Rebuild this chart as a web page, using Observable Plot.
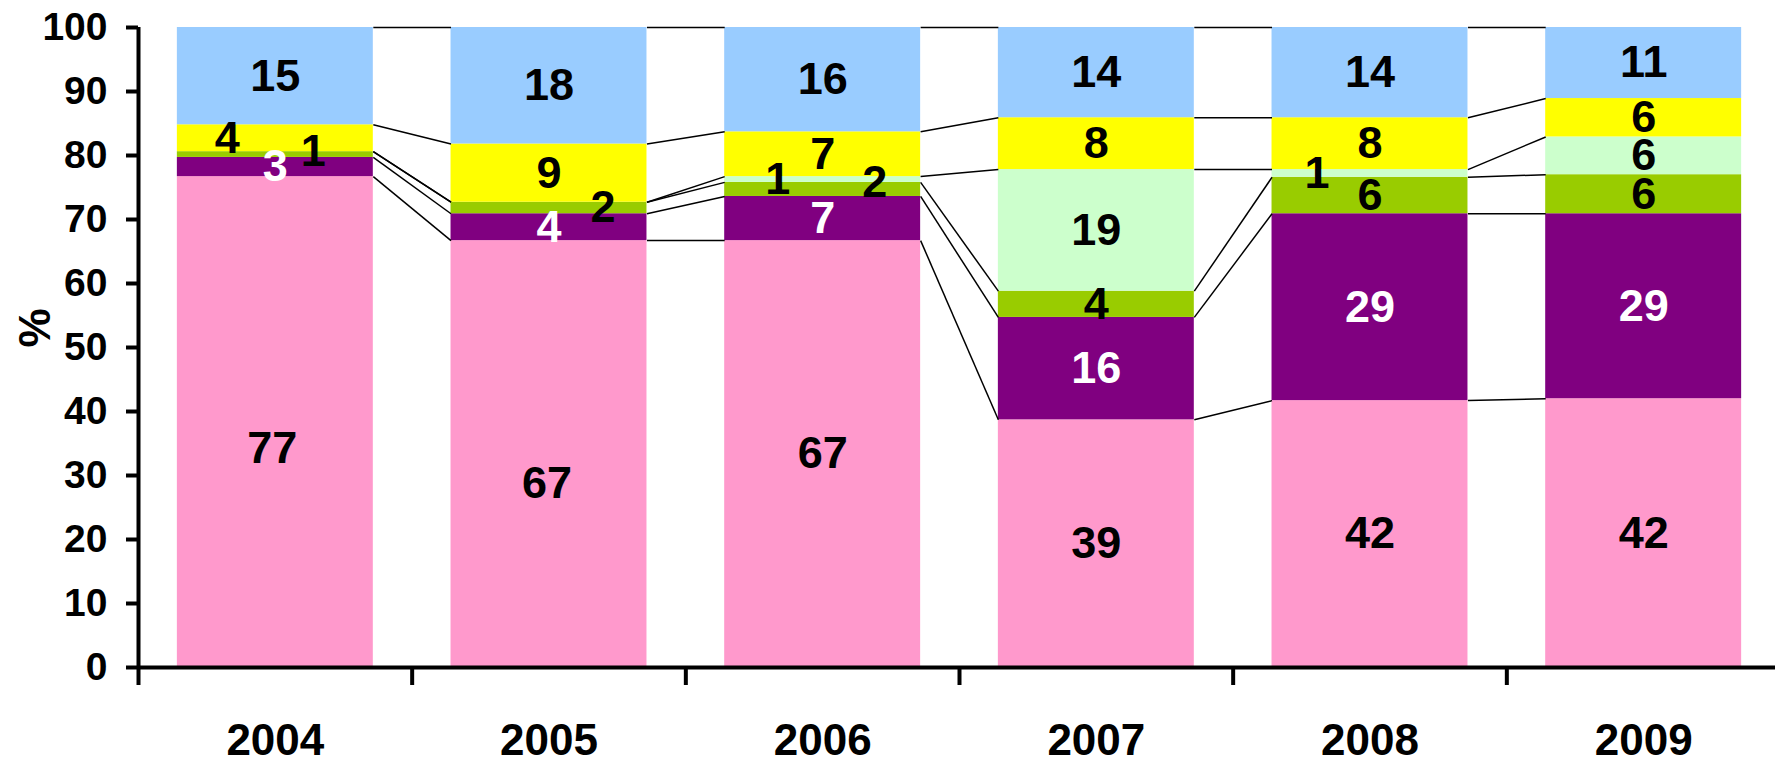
<!DOCTYPE html>
<html>
<head>
<meta charset="utf-8">
<script src="https://cdn.jsdelivr.net/npm/d3@7"></script>
<script src="https://cdn.jsdelivr.net/npm/@observablehq/plot@0.6"></script>
<style>
  html, body { margin: 0; padding: 0; background: #fff; }
</style>
</head>
<body>
<div id="chart"></div>
<script>
// ---- data (bottom to top) ----
const years = [2004, 2005, 2006, 2007, 2008, 2009];
const seriesNames = ["A", "B", "C", "D", "E", "F"];
const seriesA = [76.7, 66.7, 66.7, 38.7, 41.7, 42.0];   // pink
const seriesB = [3.0, 4.2, 6.9, 16.0, 29.2, 28.9];      // purple
const seriesC = [0.9, 1.8, 2.2, 4.1, 5.7, 6.1];         // green
const seriesD = [0, 0, 0.9, 19.0, 1.2, 5.9];            // light green
const seriesE = [4.2, 9.1, 7.0, 8.1, 8.1, 6.0];         // yellow
const seriesF = [15.2, 18.2, 16.3, 14.1, 14.1, 11.1];   // light blue
const yTicks = [0, 10, 20, 30, 40, 50, 60, 70, 80, 90, 100];
const yLabel = "%";

// ---- styling ----
const colors = ["#FF99CC", "#800080", "#99CC00", "#CCFFCC", "#FFFF00", "#99CCFF"];
const labelColors = ["#000", "#fff", "#000", "#000", "#000", "#000"];
const bandPx = 273.7;       // px per year
const pxPerUnit = 6.4;      // px per percent
const halfBar = 0.358;      // half bar width in year units
// manual label nudges (px, [dx, dy]) keyed "year|series"
const nudges = {
  "2004|A": [-3, 27], "2004|E": [-48, 0], "2004|C": [38, -3],
  "2005|A": [-2, 30], "2005|C": [54, 0],
  "2006|D": [-45, 0], "2006|C": [52, -7],
  "2008|D": [-53, 0]
};

const allSeries = [seriesA, seriesB, seriesC, seriesD, seriesE, seriesF];
const rows = [];
years.forEach((yr, i) => {
  let cum = 0;
  allSeries.forEach((vals, k) => {
    const v = vals[i];
    rows.push({year: yr, idx: i, series: seriesNames[k], k, value: v, y1: cum, y2: cum + v});
    cum += v;
  });
});

const links = [];
seriesNames.forEach((s, k) => {
  for (let i = 0; i < years.length - 1; i++) {
    const a = rows.find(r => r.idx === i && r.k === k);
    const b = rows.find(r => r.idx === i + 1 && r.k === k);
    links.push({x1: years[i] + halfBar, y1: a.y2, x2: years[i + 1] - halfBar, y2: b.y2});
  }
});

const labels = rows.filter(r => Math.round(r.value) >= 1).map(r => {
  const n = nudges[r.year + "|" + r.series] || [0, 0];
  return {...r, lx: r.year + n[0] / bandPx, ly: (r.y1 + r.y2) / 2 - n[1] / pxPerUnit, text: String(Math.round(r.value))};
});

const boundaries = [2003.5, 2004.5, 2005.5, 2006.5, 2007.5, 2008.5, 2009.5];

const chart = Plot.plot({
  width: 1775,
  height: 760,
  marginLeft: 138,
  marginRight: -5,
  marginTop: 27,
  marginBottom: 93,
  style: {fontFamily: "'Liberation Sans', Arial, sans-serif", background: "#fff", color: "#000"},
  x: {type: "linear", domain: [2003.5, 2009.5]},
  y: {domain: [0, 100]},
  color: {domain: seriesNames, range: colors},
  marks: [
    Plot.rect(rows, {
      x1: d => d.year - halfBar, x2: d => d.year + halfBar,
      y1: "y1", y2: "y2", fill: "series"
    }),
    Plot.link(links, {x1: "x1", y1: "y1", x2: "x2", y2: "y2", stroke: "#000", strokeWidth: 1.5}),
    Plot.text(labels, {
      x: "lx", y: "ly", text: "text",
      fill: d => labelColors[d.k],
      fontSize: 45, fontWeight: "bold"
    }),
    Plot.ruleX([2003.5], {y1: 0, y2: 100, stroke: "#000", strokeWidth: 4}),
    Plot.ruleY([0], {stroke: "#000", strokeWidth: 4}),
    Plot.axisY(yTicks, {
      tickSize: 12, tickPadding: 19, strokeWidth: 4,
      fontSize: 39, fontWeight: "bold", label: null, tickFormat: d => String(d)
    }),
    Plot.axisX(boundaries, {tickSize: 18, strokeWidth: 4, tickFormat: () => "", label: null}),
    Plot.axisX(years, {
      tickSize: 0, tickPadding: 56, fontSize: 44, fontWeight: "bold",
      tickFormat: d => String(d), label: null
    }),
    Plot.text([yLabel], {
      frameAnchor: "left", dx: -103, rotate: -90, text: d => d,
      fontSize: 44, fontWeight: "bold", lineAnchor: "middle", fill: "#000"
    })
  ]
});
document.getElementById("chart").appendChild(chart);
</script>
</body>
</html>
